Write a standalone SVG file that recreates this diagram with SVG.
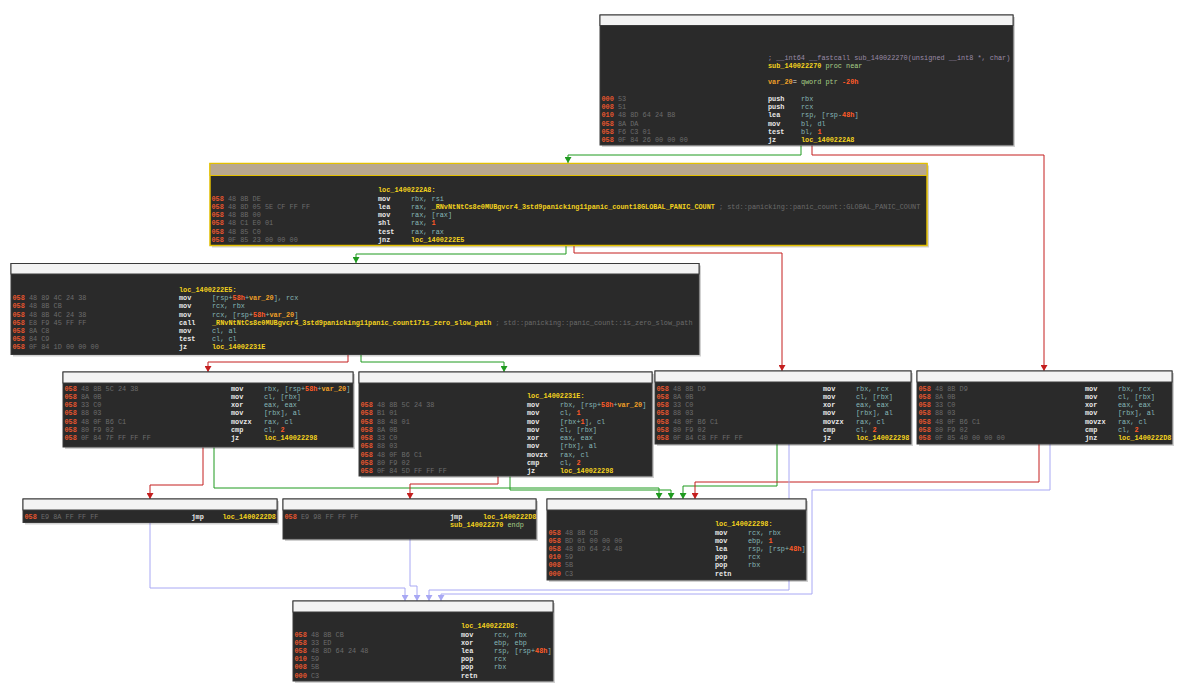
<svg xmlns="http://www.w3.org/2000/svg" width="1200" height="684" viewBox="0 0 1200 684">
<style>
text{font-family:"Liberation Mono","DejaVu Sans Mono",monospace;font-size:6.85px}
.a{fill:#e4552e;font-weight:bold}
.b{fill:#6c6c6c}
.m{fill:#e8e8e8;font-weight:bold}
.r{fill:#86b8b8}
.n{fill:#ff5a28;font-weight:bold}
.l{fill:#f2d21e;font-weight:bold}
.v{fill:#f0a028;font-weight:bold}
.c{fill:#9a8aa8}
.g{fill:#a8d088}
.cm{fill:#6a6a6a}
.w{fill:#e8e8e8}
.sh{fill:#000;opacity:.18}
.bd{fill:#2a2a2a;stroke:#3a3a3a;stroke-width:1}
.hd{fill:#f3f3f3;stroke:#3a3a3a;stroke-width:1}
.sel .bd{stroke:#e2bf00;stroke-width:1.5}
.sel .hd{fill:#b8a78f;stroke:#e2bf00;stroke-width:1}
.e{fill:none;stroke-width:1}
.eg{stroke:#1f9a1f}
.er{stroke:#c41e1e}
.eb{stroke:#a8a8f4}
</style>
<defs>
<marker id="mg" markerWidth="7" markerHeight="7" refX="6" refY="3.5" orient="auto" markerUnits="userSpaceOnUse"><path d="M0,0 L6,3.5 L0,7 z" fill="#1f9a1f"/></marker>
<marker id="mr" markerWidth="7" markerHeight="7" refX="6" refY="3.5" orient="auto" markerUnits="userSpaceOnUse"><path d="M0,0 L6,3.5 L0,7 z" fill="#c41e1e"/></marker>
<marker id="mb" markerWidth="7" markerHeight="7" refX="6" refY="3.5" orient="auto" markerUnits="userSpaceOnUse"><path d="M0,0 L6,3.5 L0,7 z" fill="#a8a8f4"/></marker>
</defs>
<rect width="1200" height="684" fill="#ffffff"/>

<g id="edges">
<path class="e eg" d="M801,145.5 V155 H568 V163" marker-end="url(#mg)"/>
<path class="e er" d="M812,145.5 V155 H1044 V371" marker-end="url(#mr)"/>
<path class="e eg" d="M566,246 V254 H356 V263" marker-end="url(#mg)"/>
<path class="e er" d="M574,246 V253 H782 V371" marker-end="url(#mr)"/>
<path class="e er" d="M348,354.5 V362 H208 V372" marker-end="url(#mr)"/>
<path class="e eg" d="M361,354.5 V362 H504 V372" marker-end="url(#mg)"/>
<path class="e er" d="M203,447.5 V485 H150 V499" marker-end="url(#mr)"/>
<path class="e eg" d="M214,447.5 V488 H659 V499" marker-end="url(#mg)"/>
<path class="e er" d="M498,476.5 V484 H410 V499" marker-end="url(#mr)"/>
<path class="e eg" d="M510,476.5 V490 H671 V499" marker-end="url(#mg)"/>
<path class="e eg" d="M777,444 V486 H683 V499" marker-end="url(#mg)"/>
<path class="e er" d="M1039,444 V482 H695 V499" marker-end="url(#mr)"/>
<path class="e eb" d="M150,522.5 V588 H405 V601" marker-end="url(#mb)"/>
<path class="e eb" d="M410,539 V586 H417 V601" marker-end="url(#mb)"/>
<path class="e eb" d="M789,444 V590 H429 V601" marker-end="url(#mb)"/>
<path class="e eb" d="M1050,444 V490 H812 V594 H441 V601" marker-end="url(#mb)"/>
</g>

<g id="n_sub_140022270">
<rect class="sh" x="602" y="17" width="413" height="130"/>
<rect class="bd" x="600" y="15" width="413" height="130"/>
<rect class="hd" x="600" y="15" width="413" height="10.5"/>
<text class="c" x="768" y="59.7">; __int64 __fastcall sub_140022270(unsigned __int8 *, char)</text>
<text x="768" y="67.9"><tspan class="l">sub_140022270</tspan><tspan class="g"> proc near</tspan></text>
<text x="768" y="84.2"><tspan class="v">var_20</tspan><tspan class="w">= </tspan><tspan class="g">qword ptr </tspan><tspan class="n">-20h</tspan></text>
<text x="601.5" y="100.7"><tspan class="a">000</tspan><tspan class="b"> 53</tspan></text><text class="m" x="768" y="100.7">push</text><text class="r" x="801" y="100.7">rbx</text>
<text x="601.5" y="109"><tspan class="a">008</tspan><tspan class="b"> 51</tspan></text><text class="m" x="768" y="109">push</text><text class="r" x="801" y="109">rcx</text>
<text x="601.5" y="117.2"><tspan class="a">010</tspan><tspan class="b"> 48 8D 64 24 B8</tspan></text><text class="m" x="768" y="117.2">lea</text><text x="801" y="117.2"><tspan class="r">rsp, [rsp-</tspan><tspan class="n">48h</tspan><tspan class="r">]</tspan></text>
<text x="601.5" y="125.5"><tspan class="a">058</tspan><tspan class="b"> 8A DA</tspan></text><text class="m" x="768" y="125.5">mov</text><text class="r" x="801" y="125.5">bl, dl</text>
<text x="601.5" y="133.8"><tspan class="a">058</tspan><tspan class="b"> F6 C3 01</tspan></text><text class="m" x="768" y="133.8">test</text><text x="801" y="133.8"><tspan class="r">bl, </tspan><tspan class="n">1</tspan></text>
<text x="601.5" y="142.1"><tspan class="a">058</tspan><tspan class="b"> 0F 84 26 00 00 00</tspan></text><text class="m" x="768" y="142.1">jz</text><text class="l" x="801" y="142.1">loc_1400222A8</text>
</g>

<g id="n_loc_1400222A8" class="sel">
<rect class="sh" x="212" y="165.5" width="717" height="82"/>
<rect class="bd" x="210" y="163.5" width="717" height="82"/>
<rect class="hd" x="210" y="163.5" width="717" height="12"/>
<text class="l" x="378" y="192.4">loc_1400222A8:</text>
<text x="211.5" y="200.6"><tspan class="a">058</tspan><tspan class="b"> 48 8B DE</tspan></text><text class="m" x="378" y="200.6">mov</text><text class="r" x="411" y="200.6">rbx, rsi</text>
<text x="211.5" y="208.9"><tspan class="a">058</tspan><tspan class="b"> 48 8D 05 5E CF FF FF</tspan></text><text class="m" x="378" y="208.9">lea</text><text x="411" y="208.9"><tspan class="r">rax, </tspan><tspan class="l">_RNvNtNtCs8e0MUBgvcr4_3std9panicking11panic_count18GLOBAL_PANIC_COUNT</tspan><tspan class="cm"> ; std::panicking::panic_count::GLOBAL_PANIC_COUNT</tspan></text>
<text x="211.5" y="217.2"><tspan class="a">058</tspan><tspan class="b"> 48 8B 00</tspan></text><text class="m" x="378" y="217.2">mov</text><text class="r" x="411" y="217.2">rax, [rax]</text>
<text x="211.5" y="225.4"><tspan class="a">058</tspan><tspan class="b"> 48 C1 E0 01</tspan></text><text class="m" x="378" y="225.4">shl</text><text x="411" y="225.4"><tspan class="r">rax, </tspan><tspan class="n">1</tspan></text>
<text x="211.5" y="233.7"><tspan class="a">058</tspan><tspan class="b"> 48 85 C0</tspan></text><text class="m" x="378" y="233.7">test</text><text class="r" x="411" y="233.7">rax, rax</text>
<text x="211.5" y="241.9"><tspan class="a">058</tspan><tspan class="b"> 0F 85 23 00 00 00</tspan></text><text class="m" x="378" y="241.9">jnz</text><text class="l" x="411" y="241.9">loc_1400222E5</text>
</g>

<g id="n_loc_1400222E5">
<rect class="sh" x="13" y="265.5" width="688" height="91"/>
<rect class="bd" x="11" y="263.5" width="688" height="91"/>
<rect class="hd" x="11" y="263.5" width="688" height="10.5"/>
<text class="l" x="179" y="292.4">loc_1400222E5:</text>
<text x="12.5" y="300.2"><tspan class="a">058</tspan><tspan class="b"> 48 89 4C 24 38</tspan></text><text class="m" x="179" y="300.2">mov</text><text x="212" y="300.2"><tspan class="r">[rsp+</tspan><tspan class="n">58h</tspan><tspan class="r">+</tspan><tspan class="v">var_20</tspan><tspan class="r">], rcx</tspan></text>
<text x="12.5" y="308.4"><tspan class="a">058</tspan><tspan class="b"> 48 8B CB</tspan></text><text class="m" x="179" y="308.4">mov</text><text class="r" x="212" y="308.4">rcx, rbx</text>
<text x="12.5" y="316.6"><tspan class="a">058</tspan><tspan class="b"> 48 8B 4C 24 38</tspan></text><text class="m" x="179" y="316.6">mov</text><text x="212" y="316.6"><tspan class="r">rcx, [rsp+</tspan><tspan class="n">58h</tspan><tspan class="r">+</tspan><tspan class="v">var_20</tspan><tspan class="r">]</tspan></text>
<text x="12.5" y="324.8"><tspan class="a">058</tspan><tspan class="b"> E8 F9 45 FF FF</tspan></text><text class="m" x="179" y="324.8">call</text><text x="212" y="324.8"><tspan class="l">_RNvNtNtCs8e0MUBgvcr4_3std9panicking11panic_count17is_zero_slow_path</tspan><tspan class="cm"> ; std::panicking::panic_count::is_zero_slow_path</tspan></text>
<text x="12.5" y="333"><tspan class="a">058</tspan><tspan class="b"> 8A C8</tspan></text><text class="m" x="179" y="333">mov</text><text class="r" x="212" y="333">cl, al</text>
<text x="12.5" y="341.2"><tspan class="a">058</tspan><tspan class="b"> 84 C9</tspan></text><text class="m" x="179" y="341.2">test</text><text class="r" x="212" y="341.2">cl, cl</text>
<text x="12.5" y="349.4"><tspan class="a">058</tspan><tspan class="b"> 0F 84 1D 00 00 00</tspan></text><text class="m" x="179" y="349.4">jz</text><text class="l" x="212" y="349.4">loc_14002231E</text>
</g>

<g id="n_block_A">
<rect class="sh" x="65" y="374" width="290" height="75"/>
<rect class="bd" x="63" y="372" width="290" height="75"/>
<rect class="hd" x="63" y="372" width="290" height="11"/>
<text x="64.5" y="390.7"><tspan class="a">058</tspan><tspan class="b"> 48 8B 5C 24 38</tspan></text><text class="m" x="231" y="390.7">mov</text><text x="264" y="390.7"><tspan class="r">rbx, [rsp+</tspan><tspan class="n">58h</tspan><tspan class="r">+</tspan><tspan class="v">var_20</tspan><tspan class="r">]</tspan></text>
<text x="64.5" y="398.9"><tspan class="a">058</tspan><tspan class="b"> 8A 0B</tspan></text><text class="m" x="231" y="398.9">mov</text><text class="r" x="264" y="398.9">cl, [rbx]</text>
<text x="64.5" y="407.2"><tspan class="a">058</tspan><tspan class="b"> 33 C0</tspan></text><text class="m" x="231" y="407.2">xor</text><text class="r" x="264" y="407.2">eax, eax</text>
<text x="64.5" y="415.4"><tspan class="a">058</tspan><tspan class="b"> 88 03</tspan></text><text class="m" x="231" y="415.4">mov</text><text class="r" x="264" y="415.4">[rbx], al</text>
<text x="64.5" y="423.7"><tspan class="a">058</tspan><tspan class="b"> 48 0F B6 C1</tspan></text><text class="m" x="231" y="423.7">movzx</text><text class="r" x="264" y="423.7">rax, cl</text>
<text x="64.5" y="432"><tspan class="a">058</tspan><tspan class="b"> 80 F9 02</tspan></text><text class="m" x="231" y="432">cmp</text><text x="264" y="432"><tspan class="r">cl, </tspan><tspan class="n">2</tspan></text>
<text x="64.5" y="440.3"><tspan class="a">058</tspan><tspan class="b"> 0F 84 7F FF FF FF</tspan></text><text class="m" x="231" y="440.3">jz</text><text class="l" x="264" y="440.3">loc_140022298</text>
</g>

<g id="n_loc_14002231E">
<rect class="sh" x="361" y="374" width="293" height="104"/>
<rect class="bd" x="359" y="372" width="293" height="104"/>
<rect class="hd" x="359" y="372" width="293" height="11"/>
<text class="l" x="527" y="398.4">loc_14002231E:</text>
<text x="360.5" y="406.9"><tspan class="a">058</tspan><tspan class="b"> 48 8B 5C 24 38</tspan></text><text class="m" x="527" y="406.9">mov</text><text x="560" y="406.9"><tspan class="r">rbx, [rsp+</tspan><tspan class="n">58h</tspan><tspan class="r">+</tspan><tspan class="v">var_20</tspan><tspan class="r">]</tspan></text>
<text x="360.5" y="415.2"><tspan class="a">058</tspan><tspan class="b"> B1 01</tspan></text><text class="m" x="527" y="415.2">mov</text><text x="560" y="415.2"><tspan class="r">cl, </tspan><tspan class="n">1</tspan></text>
<text x="360.5" y="423.5"><tspan class="a">058</tspan><tspan class="b"> 88 48 01</tspan></text><text class="m" x="527" y="423.5">mov</text><text x="560" y="423.5"><tspan class="r">[rbx+</tspan><tspan class="n">1</tspan><tspan class="r">], cl</tspan></text>
<text x="360.5" y="431.8"><tspan class="a">058</tspan><tspan class="b"> 8A 0B</tspan></text><text class="m" x="527" y="431.8">mov</text><text class="r" x="560" y="431.8">cl, [rbx]</text>
<text x="360.5" y="440.1"><tspan class="a">058</tspan><tspan class="b"> 33 C0</tspan></text><text class="m" x="527" y="440.1">xor</text><text class="r" x="560" y="440.1">eax, eax</text>
<text x="360.5" y="448.4"><tspan class="a">058</tspan><tspan class="b"> 88 03</tspan></text><text class="m" x="527" y="448.4">mov</text><text class="r" x="560" y="448.4">[rbx], al</text>
<text x="360.5" y="456.7"><tspan class="a">058</tspan><tspan class="b"> 48 0F B6 C1</tspan></text><text class="m" x="527" y="456.7">movzx</text><text class="r" x="560" y="456.7">rax, cl</text>
<text x="360.5" y="465"><tspan class="a">058</tspan><tspan class="b"> 80 F9 02</tspan></text><text class="m" x="527" y="465">cmp</text><text x="560" y="465"><tspan class="r">cl, </tspan><tspan class="n">2</tspan></text>
<text x="360.5" y="473.3"><tspan class="a">058</tspan><tspan class="b"> 0F 84 5D FF FF FF</tspan></text><text class="m" x="527" y="473.3">jz</text><text class="l" x="560" y="473.3">loc_140022298</text>
</g>

<g id="n_block_C">
<rect class="sh" x="657" y="373" width="256" height="73"/>
<rect class="bd" x="655" y="371" width="256" height="73"/>
<rect class="hd" x="655" y="371" width="256" height="11"/>
<text x="656.5" y="390.7"><tspan class="a">058</tspan><tspan class="b"> 48 8B D9</tspan></text><text class="m" x="823" y="390.7">mov</text><text class="r" x="856" y="390.7">rbx, rcx</text>
<text x="656.5" y="398.9"><tspan class="a">058</tspan><tspan class="b"> 8A 0B</tspan></text><text class="m" x="823" y="398.9">mov</text><text class="r" x="856" y="398.9">cl, [rbx]</text>
<text x="656.5" y="407.2"><tspan class="a">058</tspan><tspan class="b"> 33 C0</tspan></text><text class="m" x="823" y="407.2">xor</text><text class="r" x="856" y="407.2">eax, eax</text>
<text x="656.5" y="415.4"><tspan class="a">058</tspan><tspan class="b"> 88 03</tspan></text><text class="m" x="823" y="415.4">mov</text><text class="r" x="856" y="415.4">[rbx], al</text>
<text x="656.5" y="423.7"><tspan class="a">058</tspan><tspan class="b"> 48 0F B6 C1</tspan></text><text class="m" x="823" y="423.7">movzx</text><text class="r" x="856" y="423.7">rax, cl</text>
<text x="656.5" y="432"><tspan class="a">058</tspan><tspan class="b"> 80 F9 02</tspan></text><text class="m" x="823" y="432">cmp</text><text x="856" y="432"><tspan class="r">cl, </tspan><tspan class="n">2</tspan></text>
<text x="656.5" y="440.3"><tspan class="a">058</tspan><tspan class="b"> 0F 84 C8 FF FF FF</tspan></text><text class="m" x="823" y="440.3">jz</text><text class="l" x="856" y="440.3">loc_140022298</text>
</g>

<g id="n_block_D">
<rect class="sh" x="919" y="373" width="255" height="73"/>
<rect class="bd" x="917" y="371" width="255" height="73"/>
<rect class="hd" x="917" y="371" width="255" height="11"/>
<text x="918.5" y="390.7"><tspan class="a">058</tspan><tspan class="b"> 48 8B D9</tspan></text><text class="m" x="1085" y="390.7">mov</text><text class="r" x="1118" y="390.7">rbx, rcx</text>
<text x="918.5" y="398.9"><tspan class="a">058</tspan><tspan class="b"> 8A 0B</tspan></text><text class="m" x="1085" y="398.9">mov</text><text class="r" x="1118" y="398.9">cl, [rbx]</text>
<text x="918.5" y="407.2"><tspan class="a">058</tspan><tspan class="b"> 33 C0</tspan></text><text class="m" x="1085" y="407.2">xor</text><text class="r" x="1118" y="407.2">eax, eax</text>
<text x="918.5" y="415.4"><tspan class="a">058</tspan><tspan class="b"> 88 03</tspan></text><text class="m" x="1085" y="415.4">mov</text><text class="r" x="1118" y="415.4">[rbx], al</text>
<text x="918.5" y="423.7"><tspan class="a">058</tspan><tspan class="b"> 48 0F B6 C1</tspan></text><text class="m" x="1085" y="423.7">movzx</text><text class="r" x="1118" y="423.7">rax, cl</text>
<text x="918.5" y="432"><tspan class="a">058</tspan><tspan class="b"> 80 F9 02</tspan></text><text class="m" x="1085" y="432">cmp</text><text x="1118" y="432"><tspan class="r">cl, </tspan><tspan class="n">2</tspan></text>
<text x="918.5" y="440.3"><tspan class="a">058</tspan><tspan class="b"> 0F 85 40 00 00 00</tspan></text><text class="m" x="1085" y="440.3">jnz</text><text class="l" x="1118" y="440.3">loc_1400222D8</text>
</g>

<g id="n_block_E">
<rect class="sh" x="25" y="501" width="254" height="23.5"/>
<rect class="bd" x="23" y="499" width="254" height="23.5"/>
<rect class="hd" x="23" y="499" width="254" height="11"/>
<text x="24.5" y="519.1"><tspan class="a">058</tspan><tspan class="b"> E9 8A FF FF FF</tspan></text><text class="m" x="191.5" y="519.1">jmp</text><text class="l" x="222.5" y="519.1">loc_1400222D8</text>
</g>

<g id="n_block_F">
<rect class="sh" x="285" y="501" width="253" height="40"/>
<rect class="bd" x="283" y="499" width="253" height="40"/>
<rect class="hd" x="283" y="499" width="253" height="11"/>
<text x="284.5" y="519.1"><tspan class="a">058</tspan><tspan class="b"> E9 98 FF FF FF</tspan></text><text class="m" x="450" y="519.1">jmp</text><text class="l" x="483" y="519.1">loc_1400222D8</text>
<text x="450" y="527.4"><tspan class="l">sub_140022270</tspan><tspan class="g"> endp</tspan></text>
</g>

<g id="n_loc_140022298">
<rect class="sh" x="549" y="501" width="259" height="81"/>
<rect class="bd" x="547" y="499" width="259" height="81"/>
<rect class="hd" x="547" y="499" width="259" height="11"/>
<text class="l" x="715" y="526.4">loc_140022298:</text>
<text x="548.5" y="534.6"><tspan class="a">058</tspan><tspan class="b"> 48 8B CB</tspan></text><text class="m" x="715" y="534.6">mov</text><text class="r" x="748" y="534.6">rcx, rbx</text>
<text x="548.5" y="542.8"><tspan class="a">058</tspan><tspan class="b"> BD 01 00 00 00</tspan></text><text class="m" x="715" y="542.8">mov</text><text x="748" y="542.8"><tspan class="r">ebp, </tspan><tspan class="n">1</tspan></text>
<text x="548.5" y="551"><tspan class="a">058</tspan><tspan class="b"> 48 8D 64 24 48</tspan></text><text class="m" x="715" y="551">lea</text><text x="748" y="551"><tspan class="r">rsp, [rsp+</tspan><tspan class="n">48h</tspan><tspan class="r">]</tspan></text>
<text x="548.5" y="559.2"><tspan class="a">010</tspan><tspan class="b"> 59</tspan></text><text class="m" x="715" y="559.2">pop</text><text class="r" x="748" y="559.2">rcx</text>
<text x="548.5" y="567.4"><tspan class="a">008</tspan><tspan class="b"> 5B</tspan></text><text class="m" x="715" y="567.4">pop</text><text class="r" x="748" y="567.4">rbx</text>
<text x="548.5" y="575.7"><tspan class="a">000</tspan><tspan class="b"> C3</tspan></text><text class="m" x="715" y="575.7">retn</text>
</g>

<g id="n_loc_1400222D8">
<rect class="sh" x="295" y="603" width="260" height="80"/>
<rect class="bd" x="293" y="601" width="260" height="80"/>
<rect class="hd" x="293" y="601" width="260" height="11"/>
<text class="l" x="461" y="628.4">loc_1400222D8:</text>
<text x="294.5" y="636.6"><tspan class="a">058</tspan><tspan class="b"> 48 8B CB</tspan></text><text class="m" x="461" y="636.6">mov</text><text class="r" x="494" y="636.6">rcx, rbx</text>
<text x="294.5" y="644.8"><tspan class="a">058</tspan><tspan class="b"> 33 ED</tspan></text><text class="m" x="461" y="644.8">xor</text><text class="r" x="494" y="644.8">ebp, ebp</text>
<text x="294.5" y="653"><tspan class="a">058</tspan><tspan class="b"> 48 8D 64 24 48</tspan></text><text class="m" x="461" y="653">lea</text><text x="494" y="653"><tspan class="r">rsp, [rsp+</tspan><tspan class="n">48h</tspan><tspan class="r">]</tspan></text>
<text x="294.5" y="661.2"><tspan class="a">010</tspan><tspan class="b"> 59</tspan></text><text class="m" x="461" y="661.2">pop</text><text class="r" x="494" y="661.2">rcx</text>
<text x="294.5" y="669.4"><tspan class="a">008</tspan><tspan class="b"> 5B</tspan></text><text class="m" x="461" y="669.4">pop</text><text class="r" x="494" y="669.4">rbx</text>
<text x="294.5" y="677.7"><tspan class="a">000</tspan><tspan class="b"> C3</tspan></text><text class="m" x="461" y="677.7">retn</text>
</g>
</svg>
